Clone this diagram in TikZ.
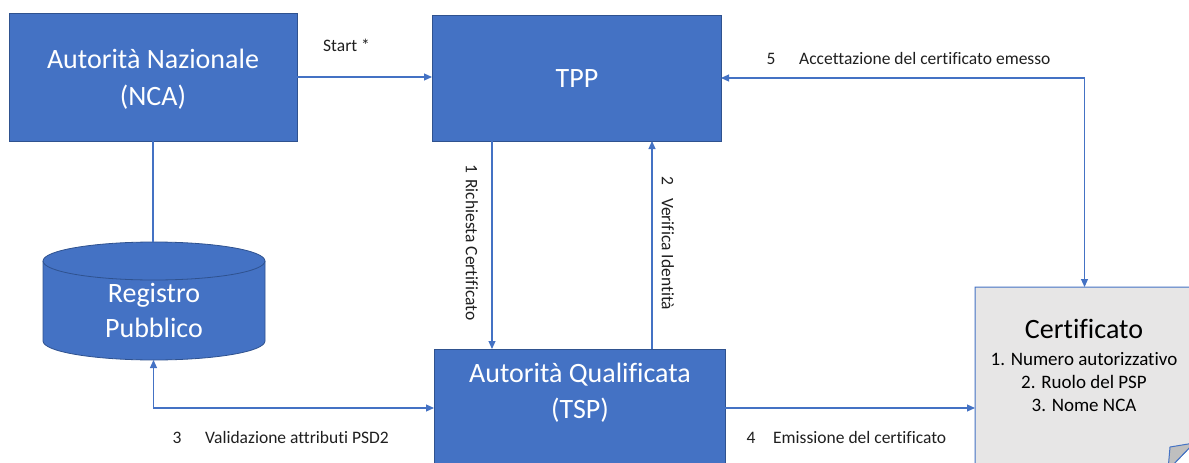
\documentclass[tikz,border=0pt]{standalone}
\usepackage{fontspec}
\setmainfont{Carlito}[Ligatures=NoCommon]
\usetikzlibrary{arrows.meta}
\definecolor{obl}{HTML}{4472C4}
\definecolor{obd}{HTML}{2F528F}
\definecolor{cfill}{HTML}{E7E6E6}
\definecolor{cfold}{HTML}{BFBFBF}
\definecolor{txt}{HTML}{1F1F1F}
\begin{document}
\begin{tikzpicture}[x=1pt,y=1pt,
  box/.style={draw=obd, line width=0.8pt, fill=obl, inner sep=0pt, outer sep=0pt},
  boxtxt/.style={text=white, font=\fontsize{28}{36}\selectfont, anchor=base, inner sep=0pt},
  certtitle/.style={text=black, font=\fontsize{28}{36}\selectfont, anchor=base, inner sep=0pt},
  certitem/.style={text=black, font=\fontsize{19}{23}\selectfont, anchor=base, inner sep=0pt},
  lbl/.style={text=txt, font=\fontsize{17.5}{21}\selectfont, inner sep=0pt},
  conn/.style={draw=obl, line width=1.1pt},
  arr/.style={conn, -{Triangle[length=8pt,width=7pt]}},
  arrb/.style={conn, {Triangle[length=8pt,width=7pt]}-{Triangle[length=8pt,width=7pt]}},
]
\useasboundingbox (0,0) rectangle (1189,-463);
\clip (0,0) rectangle (1189,-463);

% boxes
\node[box, minimum width=288pt, minimum height=128pt] (nca) at (153,-77) {};
\node[box, minimum width=289pt, minimum height=126pt] (tpp) at (576.5,-78) {};
\node[box, minimum width=291pt, minimum height=131pt] (tsp) at (579.5,-414.5) {};

% cylinder
\fill[obl] (43,-261) -- (43,-341) arc[start angle=180,end angle=360,x radius=111,y radius=19]
  -- (265,-261) arc[start angle=0,end angle=180,x radius=111,y radius=19] -- cycle;
\draw[obd, line width=0.8pt] (43,-261) -- (43,-341) arc[start angle=180,end angle=360,x radius=111,y radius=19]
  -- (265,-261) arc[start angle=0,end angle=180,x radius=111,y radius=19] -- cycle;
\draw[obd, line width=0.8pt] (43,-261) arc[start angle=180,end angle=360,x radius=111,y radius=19];
\node[minimum width=222pt, minimum height=118pt, inner sep=0pt, outer sep=0pt] (reg) at (153.5,-301) {};

% certificate
\filldraw[fill=cfill, draw=obl, line width=1pt] (975,-287) -- (1194,-287) -- (1194,-443) -- (1168,-470) -- (975,-470) -- cycle;
\filldraw[fill=cfold, draw=obl, line width=1pt] (1194,-443) -- (1170,-447) -- (1168,-470) -- cycle;
\node[minimum width=219pt, minimum height=183pt, inner sep=0pt, outer sep=0pt] (cert) at (1084.5,-378.5) {};

% box texts
\node[boxtxt] (nca1) at (153,-68) {Autorità Nazionale};
\node[boxtxt] (nca2) at (153,-105) {(NCA)};
\node[boxtxt] (tppt) at (577,-87) {TPP};
\node[boxtxt] (tsp1) at (580,-382) {Autorità Qualificata};
\node[boxtxt] (tsp2) at (580,-418) {(TSP)};
\node[boxtxt] (reg1) at (154,-302) {Registro};
\node[boxtxt] (reg2) at (154,-337) {Pubblico};
\node[certtitle] (ct) at (1084,-338) {Certificato};
\node[certitem] (ci1) at (1084,-365) {1. Numero autorizzativo};
\node[certitem] (ci2) at (1084,-388) {2. Ruolo del PSP};
\node[certitem] (ci3) at (1084,-411) {3. Nome NCA};

% connectors
\draw[conn] (nca.south) -- (nca.south |- reg.north);
\draw[arr] (nca.east) -- (nca.east -| tpp.west);
\draw[arr] ([xshift=60pt]tpp.south west) -- ([xshift=60pt]tpp.south west |- tsp.north);
\draw[arr] ([xshift=220pt]tpp.south west |- tsp.north) -- ([xshift=220pt]tpp.south west);
\draw[arrb] ([yshift=-59pt]tsp.north west) -| (reg.south);
\draw[arr] ([yshift=-59pt]tsp.north east) -- ([yshift=-59pt]tsp.north east -| cert.west);
\draw[arrb] (cert.north) |- (tpp.east);

% labels
\node[lbl, anchor=base west] (ls) at (323,-51) {Start *};
\node[lbl, rotate=-90] (l1) at (472,-242.5) {1\hspace{0.35em}Richiesta Certificato};
\node[lbl, rotate=-90] (l2) at (668,-243.5) {2\hspace{0.7em}Verifica Identità};
\node[lbl, anchor=base west] (n3) at (172.5,-443) {3};
\node[lbl, anchor=base west] (l3) at (205,-443) {Validazione attributi PSD2};
\node[lbl, anchor=base west] (n4) at (746.5,-443) {4};
\node[lbl, anchor=base west] (l4) at (773,-443) {Emissione del certificato};
\node[lbl, anchor=base west] (n5) at (766.5,-64) {5};
\node[lbl, anchor=base west] (l5) at (799,-64) {Accettazione del certificato emesso};
\end{tikzpicture}
\end{document}
